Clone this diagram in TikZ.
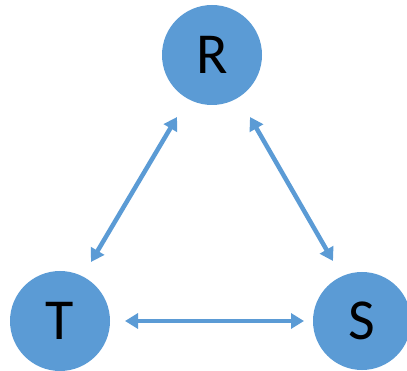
\documentclass[tikz,border=0pt]{standalone}
\usepackage{fontspec}
\setmainfont{Carlito}
\usetikzlibrary{arrows.meta}
\definecolor{obl}{HTML}{5B9BD5}
\begin{document}
\begin{tikzpicture}[x=1pt,y=-1pt,
  vert/.style={circle,fill=obl,minimum size=100pt,inner sep=0pt,font=\fontsize{58}{58}\selectfont},
  link/.style={draw=obl,line width=4.5pt,{Triangle[width=15pt,length=13pt]}-{Triangle[width=15pt,length=13pt]}}]
\useasboundingbox (0,0) rectangle (407,371);
\node[vert] (R) at (212,55) {R};
\node[vert] (T) at (60,321) {T};
\node[vert,minimum size=98pt] (S) at (362,321) {S};
\coordinate (r1) at (177,117);
\coordinate (t1) at (91,262);
\coordinate (r2) at (250,117);
\coordinate (s1) at (333,261);
\coordinate (t2) at (125,321);
\coordinate (s2) at (304,321);
\draw[link] (r1) -- (t1);
\draw[link] (r2) -- (s1);
\draw[link] (t2) -- (s2);
\end{tikzpicture}
\end{document}
